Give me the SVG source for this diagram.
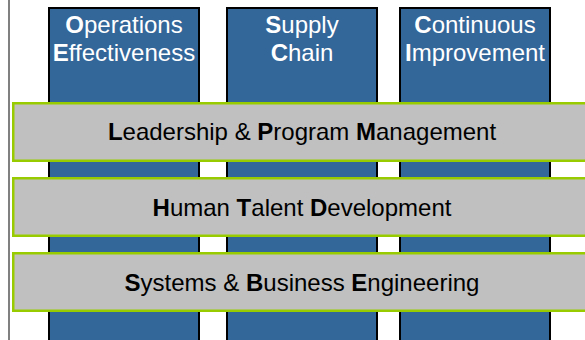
<svg xmlns="http://www.w3.org/2000/svg" width="585" height="340" viewBox="0 0 585 340">
<style>
.col{fill:#336699;stroke:#000;stroke-width:2}
.bar{fill:#C0C0C0;stroke:#99CC00;stroke-width:2.5}
.ct{font-family:"Liberation Sans",Arial,sans-serif;font-size:24px;fill:#fff;text-anchor:middle}
.bt{font-family:"Liberation Sans",Arial,sans-serif;font-size:24px;fill:#000;text-anchor:middle}
.b{font-weight:bold}
</style>
<rect x="0" y="0" width="585" height="340" fill="#fff"/>
<line x1="9" y1="0" x2="9" y2="340" stroke="#808080" stroke-width="2"/>
<g id="col-operations">
<rect class="col" x="49" y="8" width="150" height="340"/>
<text class="ct" x="124" y="32.5"><tspan class="b">O</tspan>perations</text>
<text class="ct" x="124" y="61"><tspan class="b">E</tspan>ffectiveness</text>
</g>
<g id="col-supply">
<rect class="col" x="227" y="8" width="150" height="340"/>
<text class="ct" x="302" y="32.5"><tspan class="b">S</tspan>upply</text>
<text class="ct" x="302" y="61"><tspan class="b">C</tspan>hain</text>
</g>
<g id="col-improvement">
<rect class="col" x="400" y="8" width="150" height="340"/>
<text class="ct" x="475" y="32.5"><tspan class="b">C</tspan>ontinuous</text>
<text class="ct" x="475" y="61"><tspan class="b">I</tspan>mprovement</text>
</g>
<g id="bar-leadership">
<rect class="bar" x="13.25" y="103.25" width="600" height="57.5"/>
<text class="bt" x="302" y="140"><tspan class="b">L</tspan>eadership &amp; <tspan class="b">P</tspan>rogram <tspan class="b">M</tspan>anagement</text>
</g>
<g id="bar-talent">
<rect class="bar" x="13.25" y="178.25" width="600" height="57.5"/>
<text class="bt" x="302" y="216"><tspan class="b">H</tspan>uman <tspan class="b">T</tspan>alent <tspan class="b">D</tspan>evelopment</text>
</g>
<g id="bar-systems">
<rect class="bar" x="13.25" y="253.25" width="600" height="57.5"/>
<text class="bt" x="302" y="290.5"><tspan class="b">S</tspan>ystems &amp; <tspan class="b">B</tspan>usiness <tspan class="b">E</tspan>ngineering</text>
</g>
</svg>
